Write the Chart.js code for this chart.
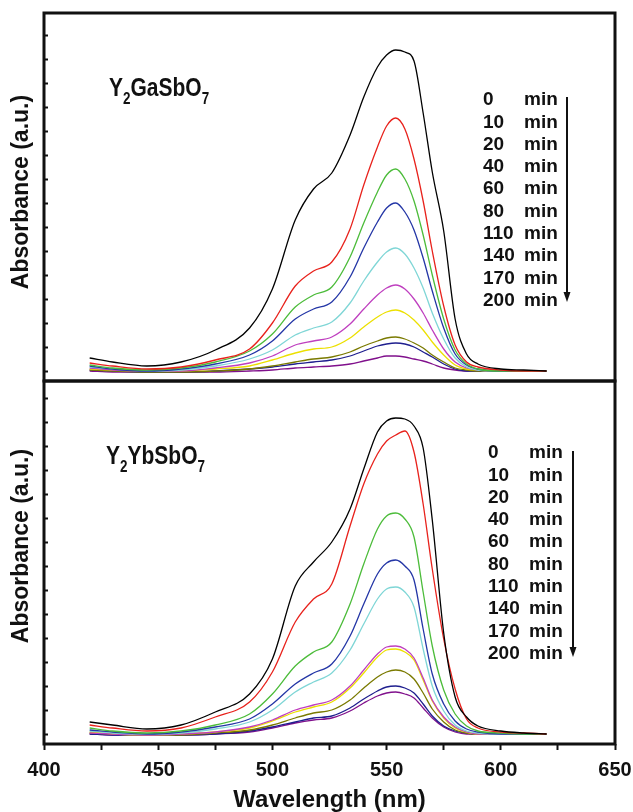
<!DOCTYPE html>
<html>
<head>
<meta charset="utf-8">
<script src="https://cdn.jsdelivr.net/npm/chart.js@4.4.1/dist/chart.umd.min.js"></script>
<style>
  html, body { margin: 0; padding: 0; background: #fff; }
  #top { position: absolute; left: 0; top: 0; width: 633px; height: 383px; }
  #bottom { position: absolute; left: 0; top: 379px; width: 633px; height: 433px; }
</style>
</head>
<body>
<div id="top"><canvas id="ga-chart"></canvas></div>
<div id="bottom"><canvas id="yb-chart"></canvas></div>
<script>
// wavelength grid (nm) shared by all spectra
const wavelength = [420, 430, 445, 460, 475, 490, 500, 510, 518, 526, 534, 540, 546, 550, 554, 558, 562, 566, 570, 575, 580, 585, 590, 600, 610, 620];
const times = ['0', '10', '20', '40', '60', '80', '110', '140', '170', '200'];
const colors = ['#000000', '#e8221c', '#4cbc3a', '#2436a6', '#7fd6d6', '#bf3fbf', '#ece000', '#7a7a00', '#1e1e8e', '#80108c'];

// Y2GaSbO7 absorbance (a.u.)
const ga0   = [23, 19, 15, 19, 31, 53, 92, 161, 192, 208, 246, 284, 314, 326, 331, 329, 320, 268, 209, 150, 62, 27, 17, 12, 11, 10];
const ga10  = [18, 15, 12, 14, 21, 32, 58, 95, 110, 119, 152, 196, 234, 255, 263, 252, 222, 180, 130, 75, 36, 19, 14, 11, 10, 10];
const ga20  = [16, 13, 11, 13, 19, 30, 47, 74, 86, 94, 124, 158, 189, 206, 212, 202, 180, 146, 106, 62, 31, 17, 12, 10, 10, 10];
const ga40  = [15, 12, 10, 12, 17, 26, 40, 62, 72, 79, 104, 133, 159, 173, 178, 169, 151, 123, 90, 53, 27, 16, 12, 10, 10, 10];
const ga60  = [14, 12, 10, 11, 15, 22, 31, 46, 53, 59, 78, 100, 119, 129, 133, 127, 113, 93, 68, 42, 23, 14, 11, 10, 10, 10];
const ga80  = [13, 11, 10, 10, 13, 18, 25, 36, 40, 44, 57, 72, 86, 93, 96, 92, 82, 68, 51, 32, 19, 13, 11, 10, 10, 10];
const ga110 = [12, 11, 10, 10, 12, 15, 21, 28, 32, 34, 43, 54, 64, 69, 71, 68, 61, 51, 39, 26, 16, 12, 11, 10, 10, 10];
const ga140 = [11, 10, 9, 9, 10, 12, 15, 19, 22, 24, 29, 35, 40, 43, 44, 42, 38, 33, 26, 19, 13, 11, 10, 10, 10, 10];
const ga170 = [11, 10, 9, 9, 10, 12, 14, 17, 19, 21, 25, 30, 35, 37, 38, 37, 34, 29, 24, 17, 12, 10, 10, 10, 10, 10];
const ga200 = [10, 9, 9, 9, 9, 10, 11, 13, 14, 15, 17, 20, 23, 25, 25, 24, 22, 20, 17, 13, 11, 10, 10, 10, 10, 10];

// Y2YbSbO7 absorbance (a.u.)
const yb0   = [22, 19, 15, 19, 32, 50, 85, 158, 182, 202, 235, 275, 312, 323, 326, 325, 318, 296, 224, 111, 47, 27, 18, 13, 11, 10];
const yb10  = [19, 16, 13, 16, 27, 42, 72, 122, 145, 160, 218, 260, 290, 303, 309, 313, 292, 240, 175, 105, 55, 25, 16, 12, 11, 10];
const yb20  = [16, 13, 11, 13, 19, 30, 50, 78, 92, 102, 140, 180, 215, 228, 231, 225, 207, 152, 98, 54, 30, 18, 13, 11, 10, 10];
const yb40  = [14, 12, 10, 12, 17, 25, 40, 60, 71, 80, 108, 140, 170, 181, 184, 178, 164, 115, 70, 40, 23, 15, 12, 10, 10, 10];
const yb60  = [13, 11, 10, 11, 15, 22, 34, 52, 62, 71, 94, 120, 145, 155, 157, 152, 137, 95, 58, 33, 19, 13, 11, 10, 10, 10];
const yb80  = [11, 10, 9, 10, 12, 17, 24, 34, 39, 44, 58, 74, 90, 97, 98, 95, 86, 66, 44, 27, 17, 12, 10, 10, 10, 10];
const yb110 = [12, 10, 9, 10, 12, 16, 23, 32, 37, 42, 56, 71, 87, 94, 95, 92, 84, 64, 43, 26, 16, 12, 10, 10, 10, 10];
const yb140 = [11, 10, 9, 9, 11, 14, 19, 26, 31, 34, 44, 56, 67, 72, 74, 72, 65, 51, 35, 22, 14, 11, 10, 10, 10, 10];
const yb170 = [10, 9, 9, 9, 10, 13, 17, 22, 26, 28, 36, 45, 53, 57, 58, 56, 51, 40, 28, 18, 13, 11, 10, 10, 10, 10];
const yb200 = [10, 9, 9, 9, 10, 12, 16, 21, 24, 26, 33, 41, 48, 51, 52, 50, 46, 36, 26, 17, 12, 10, 10, 10, 10, 10];

const xTicks = [400, 425, 450, 475, 500, 525, 550, 575, 600, 625, 650];
const xLabels = [400, 450, 500, 550, 600, 650];
const yTicks = [10, 34, 58, 82, 106, 130, 154, 178, 202, 226, 250, 274, 298, 322, 346];

const FONT = '"Liberation Sans", Arial, Helvetica, sans-serif';

function buildDatasets(series) {
  return series.map((values, i) => ({
    label: times[i] + ' min',
    data: values.map((v, j) => ({ x: wavelength[j], y: v })),
    borderColor: colors[i],
    borderWidth: 1.3,
    pointRadius: 0,
    fill: false,
    cubicInterpolationMode: 'monotone',
  }));
}

// frame, inward y ticks, sample name, time list with arrow and y title
function panelDecor(cfg) {
  return {
    id: 'panelDecor',
    afterDatasetsDraw(chart) {
      const { ctx, chartArea: a, scales } = chart;
      ctx.save();
      ctx.strokeStyle = '#111';
      ctx.fillStyle = '#111';
      ctx.lineWidth = 3;
      ctx.strokeRect(a.left, a.top, a.right - a.left, a.bottom - a.top);

      ctx.lineWidth = 2;
      yTicks.forEach((v) => {
        const y = Math.round(scales.y.getPixelForValue(v)) + 0.5;
        ctx.beginPath();
        ctx.moveTo(a.left, y);
        ctx.lineTo(a.left + 4, y);
        ctx.stroke();
      });

      // sample formula with subscripts, in a narrowed bold face
      ctx.save();
      ctx.translate(cfg.nameX, cfg.nameY);
      ctx.scale(0.84, 1);
      let fx = 0;
      ctx.textBaseline = 'alphabetic';
      ctx.textAlign = 'left';
      cfg.name.forEach(([text, sub]) => {
        ctx.font = (sub ? 'bold 16px ' : 'bold 25px ') + FONT;
        ctx.fillText(text, fx, sub ? 8 : 0);
        fx += ctx.measureText(text).width;
      });
      ctx.restore();

      // time list
      ctx.font = 'bold 19px ' + FONT;
      ctx.textBaseline = 'middle';
      times.forEach((t, i) => {
        const y = cfg.listY + i * 22.3;
        ctx.fillText(t, cfg.listX, y);
        ctx.fillText('min', cfg.listX + 41, y);
      });

      // downward arrow
      const ax = cfg.arrowX;
      ctx.lineWidth = 2;
      ctx.beginPath();
      ctx.moveTo(ax, cfg.arrowTop);
      ctx.lineTo(ax, cfg.arrowBottom - 8);
      ctx.stroke();
      ctx.beginPath();
      ctx.moveTo(ax - 3.5, cfg.arrowBottom - 10);
      ctx.lineTo(ax + 3.5, cfg.arrowBottom - 10);
      ctx.lineTo(ax, cfg.arrowBottom);
      ctx.closePath();
      ctx.fill();

      // y axis title
      ctx.translate(22, cfg.titleY);
      ctx.rotate(-Math.PI / 2);
      ctx.font = 'bold 23px ' + FONT;
      ctx.textAlign = 'center';
      ctx.fillText('Absorbance (a.u.)', 0, 0);
      ctx.restore();
    },
  };
}

const gaChart = new Chart(document.getElementById('ga-chart').getContext('2d'), {
  type: 'line',
  data: { datasets: buildDatasets([ga0, ga10, ga20, ga40, ga60, ga80, ga110, ga140, ga170, ga200]) },
  options: {
    responsive: true,
    maintainAspectRatio: false,
    animation: false,
    layout: { padding: { left: 44, right: 18, top: 13, bottom: 2 } },
    plugins: { legend: { display: false }, tooltip: { enabled: false } },
    scales: {
      x: { type: 'linear', min: 400, max: 650, display: false },
      y: { min: 0, max: 368, display: false },
    },
  },
  plugins: [panelDecor({
    name: [['Y'], ['2', true], ['GaSbO'], ['7', true]],
    nameX: 109, nameY: 96,
    listX: 483, listY: 100,
    arrowX: 567, arrowTop: 97, arrowBottom: 302,
    titleY: 192,
  })],
});

const ybChart = new Chart(document.getElementById('yb-chart').getContext('2d'), {
  type: 'line',
  data: { datasets: buildDatasets([yb0, yb10, yb20, yb40, yb60, yb80, yb110, yb140, yb170, yb200]) },
  options: {
    responsive: true,
    maintainAspectRatio: false,
    animation: false,
    layout: { padding: { left: 44, right: 18, top: 2, bottom: 0 } },
    plugins: { legend: { display: false }, tooltip: { enabled: false } },
    scales: {
      x: {
        type: 'linear',
        min: 400,
        max: 650,
        afterBuildTicks: (axis) => { axis.ticks = xTicks.map((v) => ({ value: v })); },
        afterFit: (axis) => {
          axis.height = 68;
          // end labels may overhang the plot edges
          axis.paddingLeft = 0;
          axis.paddingRight = 0;
        },
        ticks: {
          autoSkip: false,
          maxRotation: 0,
          padding: 8,
          color: '#111',
          font: { family: FONT, size: 20, weight: 'bold' },
          callback: (v) => (xLabels.includes(v) ? String(v) : ''),
        },
        grid: { drawOnChartArea: false, drawTicks: true, tickLength: 6, tickWidth: 2, tickColor: '#111' },
        border: { display: false },
        title: {
          display: true,
          text: 'Wavelength (nm)',
          color: '#111',
          padding: 0,
          font: { family: FONT, size: 24, weight: 'bold', lineHeight: 1 },
        },
      },
      y: { min: 0, max: 363, display: false },
    },
  },
  plugins: [panelDecor({
    name: [['Y'], ['2', true], ['YbSbO'], ['7', true]],
    nameX: 106, nameY: 85,
    listX: 488, listY: 74,
    arrowX: 573, arrowTop: 72, arrowBottom: 278,
    titleY: 167,
  })],
});
</script>
</body>
</html>
